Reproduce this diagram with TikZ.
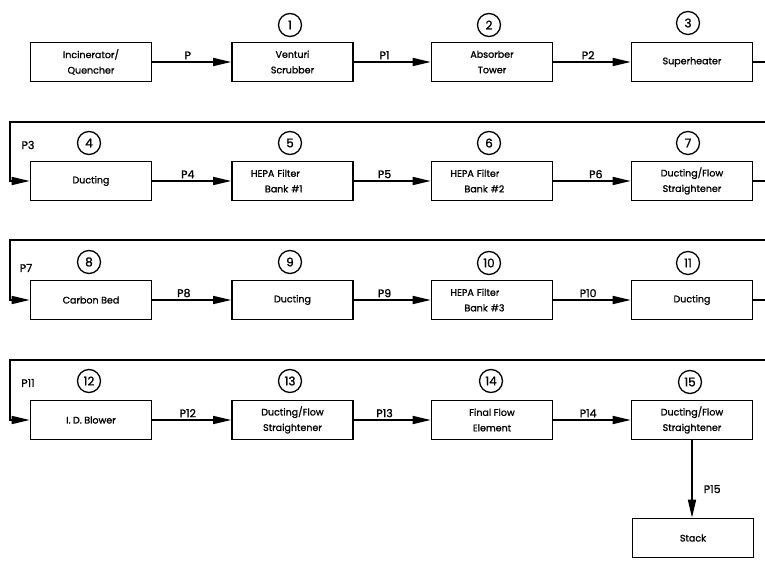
\documentclass[tikz,border=0pt]{standalone}
\usepackage{fontspec}
\setmainfont{Poppins}[FakeBold=1.2]
\usetikzlibrary{arrows.meta}
\begin{document}
\begin{tikzpicture}[x=1pt,y=-1pt,
  box/.style={draw, line width=1.6pt, minimum width=121pt, minimum height=39pt,
    inner sep=0pt, align=center, font=\fontsize{9.5}{15.5}\selectfont},
  hepa/.style={box, align=left, text width=101pt},
  num/.style={draw, circle, line width=1.3pt, minimum size=23pt, inner sep=0pt,
    font=\fontsize{12}{12}\selectfont},
  flow/.style={line width=1.6pt, -{Triangle[length=18pt,width=8pt]}},
  lab/.style={font=\fontsize{11}{12}\selectfont, inner sep=2pt}]
\useasboundingbox (0,0) rectangle (765,561);

% boxes
\node[box] (b0) at (91,62) {Incinerator/\\Quencher};
\node[box] (b1) at (292.5,62) {Venturi\\Scrubber};
\node[box] (b2) at (492,62) {Absorber\\Tower};
\node[box] (b3) at (692,62) {Superheater};
\node[box] (b4) at (91,181) {Ducting};
\node[hepa] (b5) at (292.5,181) {\hspace*{9pt}HEPA Filter\\\hspace*{23pt}Bank \#1};
\node[hepa] (b6) at (492,181) {\hspace*{9pt}HEPA Filter\\\hspace*{23pt}Bank \#2};
\node[box] (b7) at (692,181) {Ducting/Flow\\Straightener};
\node[box] (b8) at (91,300) {Carbon Bed};
\node[box] (b9) at (292.5,300) {Ducting};
\node[hepa] (b10) at (492,300) {\hspace*{9pt}HEPA Filter\\\hspace*{23pt}Bank \#3};
\node[box] (b11) at (692,300) {Ducting};
\node[box] (b12) at (91,420) {I. D. Blower};
\node[box] (b13) at (292.5,420) {Ducting/Flow\\Straightener};
\node[box] (b14) at (492,420) {Final Flow\\Element};
\node[box] (b15) at (692,420) {Ducting/Flow\\Straightener};
\node[box] (st) at (693,538) {Stack};

% numbers
\node[num] (n1) at (290,25) {1};
\node[num] (n2) at (489,25) {2};
\node[num] (n3) at (688,23) {3};
\node[num] (n4) at (89,143) {4};
\node[num] (n5) at (290,143) {5};
\node[num] (n6) at (489,143) {6};
\node[num] (n7) at (688,143) {7};
\node[num] (n8) at (89,262) {8};
\node[num] (n9) at (290,262) {9};
\node[num] (n10) at (489,263) {10};
\node[num] (n11) at (688,263) {11};
\node[num] (n12) at (89,381) {12};
\node[num] (n13) at (290,381) {13};
\node[num] (n14) at (491,381) {14};
\node[num] (n15) at (690,382) {15};

% straight connectors
\draw[flow] (b0.east) -- node[lab, above, pos=0.45] {P} (b1.west);
\draw[flow] (b1.east) -- node[lab, above, pos=0.4] {P1} (b2.west);
\draw[flow] (b2.east) -- node[lab, above, pos=0.45] {P2} (b3.west);
\draw[flow] (b4.east) -- node[lab, above, pos=0.45] {P4} (b5.west);
\draw[flow] (b5.east) -- node[lab, above, pos=0.4] {P5} (b6.west);
\draw[flow] (b6.east) -- node[lab, above, pos=0.55] {P6} (b7.west);
\draw[flow] (b8.east) -- node[lab, above, pos=0.4] {P8} (b9.west);
\draw[flow] (b9.east) -- node[lab, above, pos=0.4] {P9} (b10.west);
\draw[flow] (b10.east) -- node[lab, above, pos=0.45] {P10} (b11.west);
\draw[flow] (b12.east) -- node[lab, above, pos=0.45] {P12} (b13.west);
\draw[flow] (b13.east) -- node[lab, above, pos=0.4] {P13} (b14.west);
\draw[flow] (b14.east) -- node[lab, above, pos=0.45] {P14} (b15.west);
\draw[flow] (b15.south) -- node[lab, right=9pt, pos=0.63] {P15} (b15.south |- st.north);

% wrap-around connectors
\coordinate (r1) at (768,122); \coordinate (l1) at (10,122);
\coordinate (r2) at (768,240); \coordinate (l2) at (10,240);
\coordinate (r3) at (768,360); \coordinate (l3) at (10,360);
\draw[flow] (b3.east) -| (r1) -- (l1) |- (b4.west);
\draw[flow] (b7.east) -| (r2) -- (l2) |- (b8.west);
\draw[flow] (b11.east) -| (r3) -- (l3) |- (b12.west);
\node[lab] (p3) at (28,145) {P3};
\node[lab] (p7) at (26,268) {P7};
\node[lab] (p11) at (28,383) {P11};
\end{tikzpicture}
\end{document}
